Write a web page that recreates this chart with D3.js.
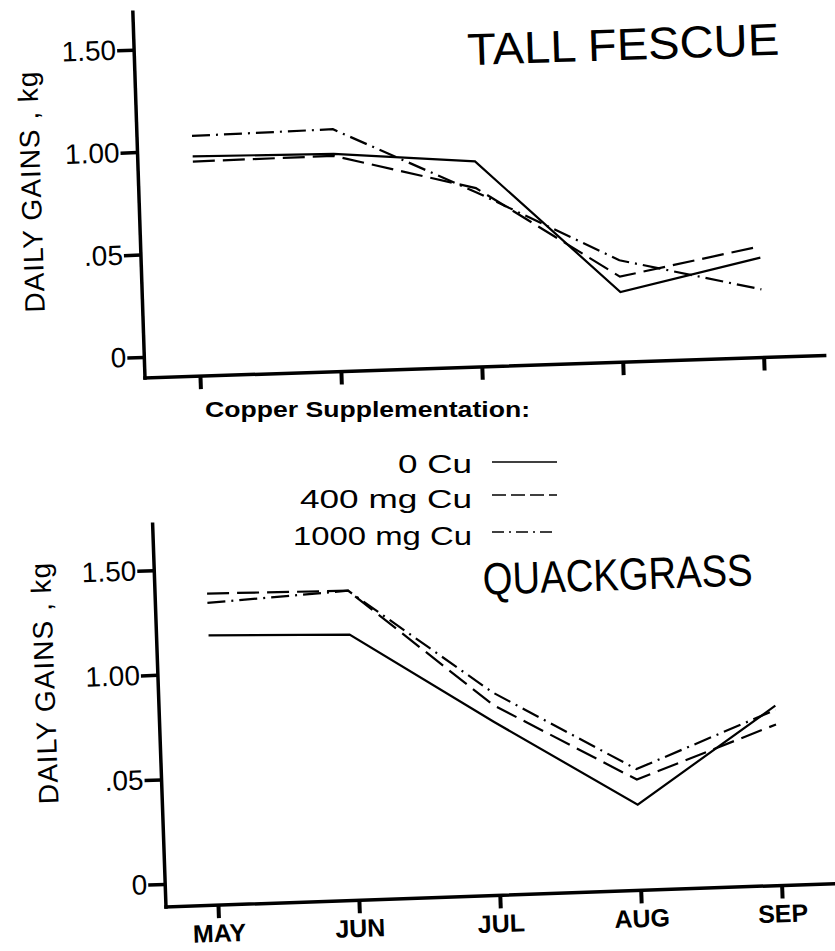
<!DOCTYPE html>
<html>
<head>
<meta charset="utf-8">
<script src="https://cdn.jsdelivr.net/npm/d3@7"></script>
<style>
  body { margin: 0; background: #fff; }
  text { font-family: "Liberation Sans", Arial, sans-serif; fill: #000; }
</style>
</head>
<body>
<div id="chart"></div>
<script>
// Data
var months = ["MAY", "JUN", "JUL", "AUG", "SEP"];

var fescue0Cu    = [0.97, 0.96, 0.90, 0.24, 0.385];
var fescue400Cu  = [0.945, 0.95, 0.77, 0.315, 0.44];
var fescue1000Cu = [1.07, 1.08, 0.75, 0.395, 0.23];

var quack0Cu    = [1.18, 1.16, 0.72, 0.30, 0.75];
var quack400Cu  = [1.38, 1.37, 0.80, 0.42, 0.66];
var quack1000Cu = [1.335, 1.37, 0.86, 0.47, 0.73];

var yTickValues = [0, 0.5, 1.0, 1.5];
var yTickLabels = ["0", ".05", "1.00", "1.50"];

var legendLabels = ["0 Cu", "400 mg Cu", "1000 mg Cu"];
var dashStyles = [null, "22,8", "18,6,2,6"];
var legendDash = [null, "14,5", "12,5,2,5"];

var svgWidth = 835;
var svgHeight = 951;

var svg = d3.select("#chart").append("svg")
    .attr("width", svgWidth)
    .attr("height", svgHeight);

// one panel, drawn in its own frame and tilted like the scanned page
function drawPanel(opt) {
  var g = svg.append("g")
      .attr("transform", `translate(${opt.x}, ${opt.y}) rotate(${opt.angle})`);

  var xScale = d3.scalePoint()
      .domain(months)
      .range([opt.firstTick, opt.firstTick + 4 * 141]);

  var yScale = d3.scaleLinear()
      .domain([0, 1.5])
      .range([-opt.zeroOffset, -opt.zeroOffset - 1.5 * opt.unit]);

  // axis lines
  g.append("line")
      .attr("x1", 0).attr("y1", 0).attr("x2", opt.xLen).attr("y2", 0)
      .attr("stroke", "#000").attr("stroke-width", 3.5).attr("stroke-linecap", "square");
  g.append("line")
      .attr("x1", 0).attr("y1", 0).attr("x2", 0).attr("y2", -opt.yLen)
      .attr("stroke", "#000").attr("stroke-width", 3.5).attr("stroke-linecap", "square");

  // y ticks
  var yAxis = d3.axisLeft(yScale)
      .tickValues(yTickValues)
      .tickSize(17)
      .tickPadding(1)
      .tickFormat(function(d, i) { return yTickLabels[i]; });

  var yg = g.append("g").call(yAxis);
  yg.select(".domain").remove();
  yg.selectAll(".tick line").attr("stroke", "#000").attr("stroke-width", 3.5);
  yg.selectAll(".tick text")
      .style("font-family", "'Liberation Sans', Arial, sans-serif")
      .style("font-size", "28px")
      .attr("fill", "#000");

  // x ticks
  var xAxis = d3.axisBottom(xScale)
      .tickSize(13)
      .tickPadding(8)
      .tickFormat(opt.showMonths ? function(d) { return d; } : "");

  var xg = g.append("g").call(xAxis);
  xg.select(".domain").remove();
  xg.selectAll(".tick line").attr("stroke", "#000").attr("stroke-width", 4);
  xg.selectAll(".tick text")
      .style("font-family", "'Liberation Sans', Arial, sans-serif")
      .style("font-size", "25px")
      .style("font-weight", "bold")
      .attr("fill", "#000")
      .attr("y", 19);

  // series
  var line = d3.line()
      .x(function(d, i) { return xScale(months[i]); })
      .y(function(d) { return yScale(d); });

  opt.series.forEach(function(s, i) {
    g.append("path")
        .datum(s)
        .attr("d", line)
        .attr("fill", "none")
        .attr("stroke", "#000")
        .attr("stroke-width", 2.2)
        .attr("stroke-dasharray", dashStyles[i]);
  });

  // y label
  g.append("text")
      .attr("transform", `translate(${opt.labelX}, ${opt.labelY}) rotate(-90)`)
      .attr("text-anchor", "middle")
      .attr("dy", "0.36em")
      .style("font-size", "28px")
      .style("letter-spacing", "1px")
      .text("DAILY  GAINS , kg");

  // title
  g.append("text")
      .attr("x", opt.titleX)
      .attr("y", opt.titleY)
      .attr("textLength", opt.titleLen)
      .attr("lengthAdjust", "spacingAndGlyphs")
      .style("font-size", "45px")
      .text(opt.title);
}

drawPanel({
  x: 145, y: 378, angle: -1.9,
  xLen: 680, yLen: 366,
  firstTick: 55, zeroOffset: 21, unit: 205,
  showMonths: false,
  series: [fescue0Cu, fescue400Cu, fescue1000Cu],
  labelX: -108, labelY: -190,
  title: "TALL  FESCUE", titleX: 333, titleY: -302, titleLen: 312
});

drawPanel({
  x: 166, y: 907, angle: -2.0,
  xLen: 670, yLen: 383,
  firstTick: 52, zeroOffset: 23, unit: 209.3,
  showMonths: true,
  series: [quack0Cu, quack400Cu, quack1000Cu],
  labelX: -114, labelY: -228,
  title: "QUACKGRASS", titleX: 328, titleY: -301, titleLen: 270
});

// Legend
svg.append("text")
    .attr("x", 205)
    .attr("y", 417)
    .attr("textLength", 325)
    .attr("lengthAdjust", "spacingAndGlyphs")
    .style("font-size", "22px")
    .style("font-weight", "bold")
    .text("Copper  Supplementation:");

var legendX = [398, 300, 293];
var legendY = [473, 508, 545];
var legendW = [74, 172, 179];
var legendLineY = [462, 495, 532];

legendLabels.forEach(function(lbl, i) {
  svg.append("text")
      .attr("x", legendX[i])
      .attr("y", legendY[i])
      .attr("textLength", legendW[i])
      .attr("lengthAdjust", "spacingAndGlyphs")
      .style("font-size", "25px")
      .text(lbl);

  svg.append("line")
      .attr("x1", 492).attr("x2", 557)
      .attr("y1", legendLineY[i]).attr("y2", legendLineY[i])
      .attr("stroke", "#000")
      .attr("stroke-width", 1.6)
      .attr("stroke-dasharray", legendDash[i]);
});
</script>
</body>
</html>
